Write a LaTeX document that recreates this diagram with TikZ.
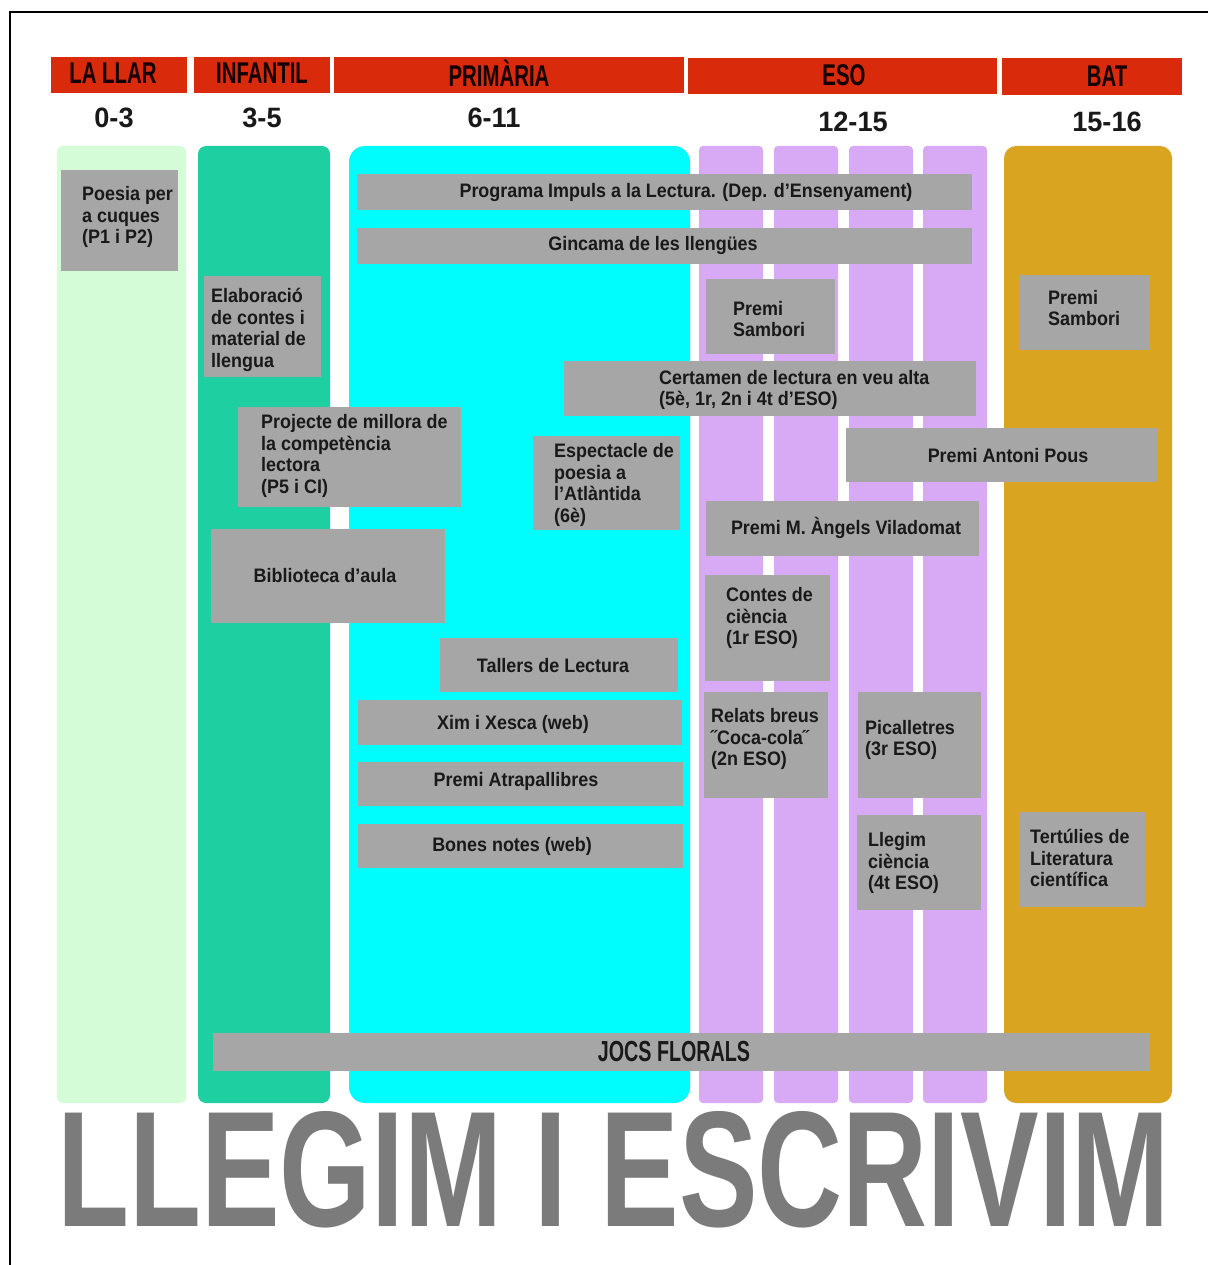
\documentclass[tikz,border=0pt]{standalone}
\usepackage{fontspec}
\usepackage{graphicx}
\setmainfont{Liberation Sans}
\newfontfamily\condf[FakeStretch=0.92]{Liberation Sans}
\newfontfamily\agef[FakeStretch=0.97]{Liberation Sans}
\newfontfamily\hdrf[FakeStretch=0.68]{Liberation Sans}
\usetikzlibrary{fit}
\definecolor{redbar}{HTML}{D92A0C}
\definecolor{llar}{HTML}{D4FCD6}
\definecolor{infc}{HTML}{1ECFA2}
\definecolor{primc}{HTML}{00FDFD}
\definecolor{esoc}{HTML}{D8AAF6}
\definecolor{batc}{HTML}{D9A521}
\definecolor{boxg}{HTML}{A6A6A6}
\definecolor{titleg}{HTML}{7B7B7B}
\begin{document}
\begin{tikzpicture}[x=1pt,y=-1pt,
  gbox/.style={fill=boxg, inner sep=0pt, draw=none},
  hbar/.style={fill=redbar, inner sep=0pt, draw=none},
  txt/.style={font=\condf\bfseries\fontsize{19.5}{21.7}\selectfont, inner sep=0pt, align=left, text=black!90, yshift=-2pt},
  ctxt/.style={txt, anchor=center},
  ltxt/.style={txt, anchor=west},
  htxt/.style={font=\hdrf\bfseries\fontsize{30}{30}\selectfont, inner sep=0pt, text=black!92!red},
  agetxt/.style={font=\agef\bfseries\fontsize{28}{28}\selectfont, inner sep=0pt, text=black!90}]
\useasboundingbox (0,0) rectangle (1208,1265);
\fill[white] (0,0) rectangle (1208,1265);
\draw[black, line width=1.3pt] (1208,12) -- (10,12) -- (10,1265);

% header bars
\node[hbar, fit={(51,57)(187,93)}] (bLlar) {};
\node[hbar, fit={(194,57)(330,93)}] (bInf) {};
\node[hbar, fit={(334,57)(684,93)}] (bPrim) {};
\node[hbar, fit={(688,58)(997,94)}] (bEso) {};
\node[hbar, fit={(1002,58)(1182,95)}] (bBat) {};
\node[htxt] (tLlar) at (113,73) {LA LLAR};
\node[htxt] (tInf) at (262,73) {INFANTIL};
\node[htxt] (tPrim) at (499,73) {PRIMÀRIA};
\node[htxt] (tEso) at (844,75) {ESO};
\node[htxt] (tBat) at (1107,76) {BAT};

% ages
\node[agetxt] (a1) at (114,118) {0-3};
\node[agetxt] (a2) at (262,118) {3-5};
\node[agetxt] (a3) at (494,118) {6-11};
\node[agetxt] (a4) at (853,122) {12-15};
\node[agetxt] (a5) at (1107,122) {15-16};

% columns
\fill[llar, rounded corners=6pt] (57,146) rectangle (186,1103);
\fill[infc, rounded corners=8pt] (198,146) rectangle (330,1103);
\fill[primc, rounded corners=16pt] (349,146) rectangle (690,1103);
\fill[esoc, rounded corners=4pt] (699,146) rectangle (763,1103);
\fill[esoc, rounded corners=4pt] (774,146) rectangle (838,1103);
\fill[esoc, rounded corners=4pt] (849,146) rectangle (913,1103);
\fill[esoc, rounded corners=4pt] (923,146) rectangle (987,1103);
\fill[batc, rounded corners=12pt] (1004,146) rectangle (1172,1103);

% grey boxes
\node[gbox, fit={(61,170)(178,271)}] (poesia) {};
\node[ltxt] (poesiaT) at (82,215) {Poesia per\\a cuques\\(P1 i P2)};

\node[gbox, fit={(357,174)(972,210)}] (impuls) {};
\node[ctxt] (impulsT) at (686,191) {Programa Impuls a la Lectura. (Dep. d’Ensenyament)};

\node[gbox, fit={(357,228)(972,264)}] (gincama) {};
\node[ctxt] (gincamaT) at (653,244) {Gincama de les llengües};

\node[gbox, fit={(204,276)(321,377)}] (elab) {};
\node[ltxt] (elabT) at (211,328) {Elaboració\\de contes i\\material de\\llengua};

\node[gbox, fit={(706,279)(835,354)}] (samb1) {};
\node[ltxt] (samb1T) at (733,317) {Premi\\Sambori};

\node[gbox, fit={(1019,275)(1150,350)}] (samb2) {};
\node[ltxt] (samb2T) at (1048,306) {Premi\\Sambori};

\node[gbox, fit={(564,361)(976,416)}] (cert) {};
\node[ltxt] (certT) at (659,388) {Certamen de lectura en veu alta\\(5è, 1r, 2n i 4t d’ESO)};

\node[gbox, fit={(238,407)(461,507)}] (proj) {};
\node[ltxt] (projT) at (261,454) {Projecte de millora de\\la competència\\lectora\\(P5 i CI)};

\node[gbox, fit={(533,436)(680,530)}] (espec) {};
\node[ltxt] (especT) at (554,483) {Espectacle de\\poesia a\\l’Atlàntida\\(6è)};

\node[gbox, fit={(846,428)(1157,482)}] (pous) {};
\node[ctxt] (pousT) at (1008,454) {Premi Antoni Pous};

\node[gbox, fit={(706,501)(979,556)}] (vila) {};
\node[ctxt] (vilaT) at (846,526) {Premi M. Àngels Viladomat};

\node[gbox, fit={(211,529)(445,623)}] (bibl) {};
\node[ctxt] (biblT) at (325,574) {Biblioteca d’aula};

\node[gbox, fit={(705,575)(830,681)}] (contes) {};
\node[ltxt] (contesT) at (726,616) {Contes de\\ciència\\(1r ESO)};

\node[gbox, fit={(440,638)(678,692)}] (tallers) {};
\node[ctxt] (tallersT) at (553,664) {Tallers de Lectura};

\node[gbox, fit={(358,700)(682,745)}] (xim) {};
\node[ctxt] (ximT) at (513,722) {Xim i Xesca (web)};

\node[gbox, fit={(704,692)(828,798)}] (relats) {};
\node[ltxt] (relatsT) at (711,737) {Relats breus\\˝Coca-cola˝\\(2n ESO)};

\node[gbox, fit={(858,692)(981,798)}] (pica) {};
\node[ltxt] (picaT) at (865,738) {Picalletres\\(3r ESO)};

\node[gbox, fit={(358,762)(683,806)}] (atrapa) {};
\node[ctxt] (atrapaT) at (516,779) {Premi Atrapallibres};

\node[gbox, fit={(358,824)(683,868)}] (bones) {};
\node[ctxt] (bonesT) at (512,844) {Bones notes (web)};

\node[gbox, fit={(857,815)(981,910)}] (llegim) {};
\node[ltxt] (llegimT) at (868,861) {Llegim\\ciència\\(4t ESO)};

\node[gbox, fit={(1020,812)(1145,907)}] (tert) {};
\node[ltxt] (tertT) at (1030,856) {Tertúlies de\\Literatura\\científica};

\node[gbox, fit={(213,1033)(1150,1071)}] (jocs) {};
\node[htxt, text=black!90, font=\hdrf\bfseries\fontsize{29}{29}\selectfont] (jocsT) at (674,1052) {JOCS FLORALS};

% title
\node[anchor=south west, inner sep=0pt, text=titleg] (title) at (57,1228)
  {\resizebox{1111pt}{115pt}{\hdrf\bfseries LLEGIM I ESCRIVIM}};
\end{tikzpicture}
\end{document}
